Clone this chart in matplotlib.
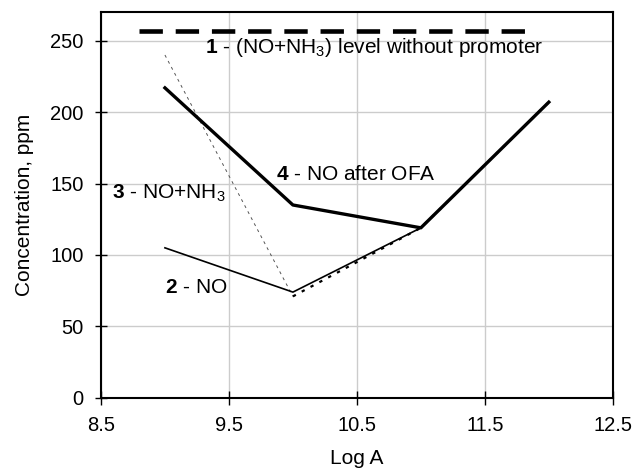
import matplotlib.pyplot as plt

plt.rcParams['font.family'] = ['Liberation Sans', 'DejaVu Sans']
plt.rcParams['mathtext.fontset'] = 'custom'
plt.rcParams['mathtext.rm'] = 'Liberation Sans'
plt.rcParams['mathtext.bf'] = 'Liberation Sans:bold'

log_a = [9, 10, 11, 12]
no_after_ofa = [217, 135, 119, 207]
no_conc = [105, 74, 119, 207]
no_nh3 = [240, 71, 119, 207]
level_x = [8.8, 11.85]
level_y = [257, 257]

x_ticks = [8.5, 9.5, 10.5, 11.5, 12.5]
y_ticks = [0, 50, 100, 150, 200, 250]

fig = plt.figure(figsize=(6.39, 4.68), dpi=100)
ax = fig.add_axes([0.158, 0.150, 0.801, 0.824])

ax.grid(True, color="#cccccc", lw=1.0)
ax.set_axisbelow(True)

# 1 - level without promoter
ax.plot(level_x, level_y, color="black", lw=3.3, dashes=(5.1, 2.8), solid_capstyle='butt')
# 3 - NO+NH3 (steep part fine dashes, rest dotted)
ax.plot(log_a[:2], no_nh3[:2], color="#555555", lw=0.7, dashes=(3, 4))
ax.plot(log_a[1:], no_nh3[1:], color="black", lw=1.6, dashes=(1.5, 3))
# 2 - NO
ax.plot(log_a, no_conc, color="black", lw=1.2)
# 4 - NO after OFA
ax.plot(log_a, no_after_ofa, color="black", lw=2.4)

fs = 15
ax.text(9.31, 245, r"$\mathbf{1}$ - (NO+NH$_3$) level without promoter", fontsize=fs, va='center')
ax.text(9.87, 156, r"$\mathbf{4}$ - NO after OFA", fontsize=fs, va='center')
ax.text(8.59, 143, r"$\mathbf{3}$ - NO+NH$_3$", fontsize=fs, va='center')
ax.text(9.0, 77, r"$\mathbf{2}$ - NO", fontsize=fs, va='center')

ax.set_xlim(8.5, 12.5)
ax.set_ylim(0, 270)
ax.set_xticks(x_ticks)
ax.set_xticklabels([str(t) for t in x_ticks])
ax.set_yticks(y_ticks)
ax.tick_params(axis='x', direction='inout', length=10, width=1, labelsize=14.5, pad=8)
ax.tick_params(axis='y', direction='inout', length=9, width=1, labelsize=14.5, pad=8)
for s in ax.spines.values():
    s.set_linewidth(1.5)

ax.set_xlabel("Log A", fontsize=15, labelpad=10)
ax.set_ylabel("Concentration, ppm", fontsize=15, labelpad=12)

fig.savefig("out.png", dpi=100)
